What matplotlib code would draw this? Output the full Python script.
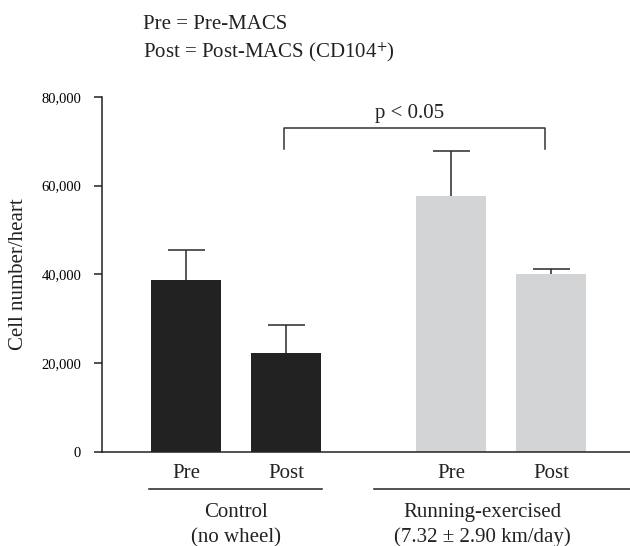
import numpy as np
import matplotlib
matplotlib.use('Agg')
import matplotlib.pyplot as plt
from matplotlib.transforms import blended_transform_factory
from matplotlib.lines import Line2D

plt.rcParams['font.family'] = ['Liberation Serif', 'DejaVu Serif']
plt.rcParams['mathtext.fontset'] = 'stix'

# Dữ liệu
bar_labels = ['Pre', 'Post', 'Pre', 'Post']
means = [38650, 22400, 57750, 40000]
errors = [6750, 6150, 9950, 1200]
bar_colors = ['#222222', '#222222', '#d3d4d6', '#d3d4d6']
groups = ['Control\n(no wheel)', 'Running-exercised\n(7.32 ± 2.90 km/day)']
yticks = [0, 20000, 40000, 60000, 80000]
ytick_labels = ['0', '20,000', '40,000', '60,000', '80,000']
p_text = 'p < 0.05'

W, H = 630, 546
fig = plt.figure(figsize=(W / 100, H / 100), dpi=100)
ax = fig.add_axes([102 / W, 1 - 452 / H, (W - 102) / W, (452 - 96.7) / H])

x = np.array([0, 1, 2.65, 3.65])
means = np.array(means)
errors = np.array(errors)
ax.bar(x, means, width=0.7, color=bar_colors, zorder=2)
# chỉ vẽ thanh sai số phía trên
ax.vlines(x, means, means + errors, color='#2a2a2a', lw=1.1, zorder=1)
ax.hlines(means + errors, x - 0.185, x + 0.185, color='#2a2a2a', lw=1.1, zorder=1)

ax.set_xlim(-0.84, 4.44)
ax.set_ylim(0, 80000)
ax.set_yticks(yticks)
ax.set_yticklabels(ytick_labels, fontsize=10.5)
ax.tick_params(axis='y', length=6, width=1.1, pad=9, color='#222222')
ax.set_xticks([])
for s in ['top', 'right']:
    ax.spines[s].set_visible(False)
for s in ['left', 'bottom']:
    ax.spines[s].set_linewidth(1.1)
    ax.spines[s].set_color('#222222')

# nhãn trục y
fig.text(18.5 / W, 1 - 274.5 / H, 'Cell number/heart', rotation=90,
         ha='center', va='center', fontsize=15, color='#222222')

# nhãn Pre/Post dưới cột
tr = blended_transform_factory(ax.transData, fig.transFigure)
for xi, lab in zip(x, bar_labels):
    ax.text(xi, 1 - 478 / H, lab, transform=tr, ha='center', va='baseline',
            fontsize=15, color='#222222')

# đường nhóm và tên nhóm
ax.add_line(Line2D([-0.37, 1.36], [1 - 489 / H] * 2, transform=tr, color='#222222',
                   lw=1.1, clip_on=False))
ax.add_line(Line2D([1.88, 4.44], [1 - 489 / H] * 2, transform=tr, color='#222222',
                   lw=1.1, clip_on=False))
for gx, g in zip([0.5, 2.96], groups):
    l1, l2 = g.split('\n')
    ax.text(gx, 1 - 517 / H, l1, transform=tr, ha='center', va='baseline',
            fontsize=15, color='#222222')
    ax.text(gx, 1 - 542 / H, l2, transform=tr, ha='center', va='baseline',
            fontsize=15, color='#222222')

# dấu ngoặc ý nghĩa thống kê
ax.plot([0.98, 0.98, 3.59, 3.59], [68250, 72900, 72900, 68250], color='#333333',
        lw=1.1, clip_on=False)
ax.text(2.24, 75100, p_text, ha='center', va='baseline', fontsize=15, color='#222222')

# chú thích
fig.text(143 / W, 1 - 29 / H, 'Pre = Pre-MACS', ha='left', va='baseline',
         fontsize=15, color='#222222')
fig.text(143 / W, 1 - 57 / H, 'Post = Post-MACS (CD104$^{+}$)', ha='left', va='baseline',
         fontsize=15, color='#222222')

fig.savefig('out.png', dpi=100)
